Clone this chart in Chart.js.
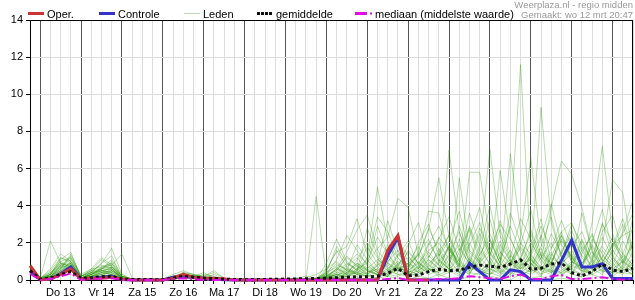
<!DOCTYPE html>
<html>
<head>
<meta charset="utf-8">
<script src="https://cdn.jsdelivr.net/npm/chart.js@4.4.1/dist/chart.umd.min.js"></script>
<style>
html, body { margin: 0; padding: 0; background: #fff; }
#wrap { width: 635px; height: 300px; }
</style>
</head>
<body>
<div id="wrap"><canvas id="pluim" width="635" height="300"></canvas></div>
<script>
// tijdas: 6-uurlijks, van wo 12 18:00 t/m do 27 12:00
const dagen = ['Wo 12', 'Do 13', 'Vr 14', 'Za 15', 'Zo 16', 'Ma 17', 'Di 18', 'Wo 19',
    'Do 20', 'Vr 21', 'Za 22', 'Zo 23', 'Ma 24', 'Di 25', 'Wo 26', 'Do 27'];
const uren = ['00:00', '06:00', '12:00', '18:00'];
const yTicks = [0, 2, 4, 6, 8, 10, 12, 14];

// neerslag (mm) per 6 uur, groepjes = 1 dag
const oper = [0.77,
    0.02, 0.05, 0.3, 0.6,   0.05, 0.1, 0.1, 0.15,   0.05, 0, 0, 0,   0, 0.1, 0.3, 0.15,
    0.1, 0.1, 0.05, 0,   0, 0, 0, 0,   0, 0, 0, 0,   0, 0, 0, 0,
    0, 0, 1.6, 2.4,   0, 0, 0];

const controle = [0.5,
    0.02, 0.05, 0.35, 0.7,   0.05, 0.1, 0.15, 0.2,   0.03, 0, 0, 0,   0, 0.15, 0.2, 0.15,
    0.1, 0.05, 0.02, 0,   0, 0, 0, 0,   0, 0, 0, 0,   0, 0, 0, 0,
    0, 0, 1.3, 2.3,   0, 0, 0, 0,   0, 0, 0.9, 0.45,   0, 0, 0.55, 0.45,
    0, 0, 0, 1.05,   2.15, 0.7, 0.7, 0.88,   0.08, 0.08, 0.08];

const gemiddelde = [0.5,
    0.05, 0.1, 0.3, 0.45,   0.08, 0.12, 0.18, 0.2,   0.05, 0.03, 0.03, 0.02,   0.02, 0.1, 0.2, 0.15,
    0.1, 0.08, 0.05, 0.03,   0.02, 0.02, 0.03, 0.04,   0.05, 0.06, 0.07, 0.08,   0.1, 0.12, 0.15, 0.18,
    0.17, 0.2, 0.36, 0.63,   0.22, 0.27, 0.45, 0.58,   0.5, 0.54, 0.68, 0.8,   0.75, 0.68, 0.86, 1.08,
    0.58, 0.63, 0.86, 0.93,   0.4, 0.22, 0.45, 0.86,   0.54, 0.45, 0.63];

const mediaan = [0.35,
    0, 0.05, 0.2, 0.35,   0, 0.05, 0.08, 0.1,   0, 0, 0, 0,   0, 0.05, 0.1, 0.05,
    0, 0, 0, 0,   0, 0, 0, 0,   0, 0, 0, 0,   0, 0, 0, 0,
    0, 0, 0.05, 0.1,   0, 0, 0, 0.05,   0.05, 0.1, 0.2, 0.15,   0.1, 0.05, 0.2, 0.3,
    0.05, 0.05, 0.2, 0.27,   0.05, 0.05, 0.1, 0.15,   0.05, 0.02, 0.05];

const lid01 = [0.6, 0.05,0.1,0.4,0.7, 0.1,0.3,0.5,0.4, 0.1,0,0,0, 0,0.2,0.3,0.1, 0.1,0.05,0,0, 0,0,0,0, 0,0,0,0.05,
    0.2,0.5,1.2,0.8, 0.3,0.6,1.5,2.2, 1.0,0.4,0.8,1.5, 2.4,1.0,0.5,0.9, 1.8,0.6,0.3,1.2, 2.5,1.1,0.4,0.8, 1.6,0.7,2.2,1.4, 0.6,1.0,2.0];
const lid02 = [0.9, 0.1,2.1,0.9,0.5, 0.05,0.2,0.3,0.6, 0.05,0,0.05,0, 0,0.1,0.2,0.2, 0.4,0.1,0,0, 0,0,0,0, 0,0,0.05,0.1,
    0.1,0.3,0.2,0.6, 1.1,0.4,0.2,0.9, 0.3,1.2,2.8,1.6, 0.5,0.2,1.9,3.1, 1.2,0.4,0.2,0.7, 1.5,3.3,1.0,0.3, 0.6,2.1,0.9,0.4, 1.7,3.0,1.2];
const lid03 = [0.4, 0,0.3,1.2,1.0, 0.1,0.4,0.9,1.7, 0.3,0.05,0,0, 0,0.05,0.3,0.2, 0.05,0,0,0, 0,0,0,0, 0,0.05,0,0,
    0.5,1.6,0.7,0.3, 0.2,0.1,0.4,1.3, 2.1,0.8,0.3,0.5, 1.4,2.6,1.1,0.5, 0.3,1.0,2.9,1.5, 0.6,0.2,1.3,2.4, 1.0,0.5,0.8,2.6, 3.5,1.4,0.8];
const lid04 = [0.5, 0.05,0.2,0.6,1.4, 0.2,0.5,0.6,0.8, 1.4,0.1,0,0.05, 0,0.1,0.2,0.1, 0.1,0.3,0.05,0, 0,0,0,0, 0,0.1,0,4.5,
    0.2,0.1,0.4,0.9, 0.5,0.3,0.2,0.6, 0.9,1.8,0.6,0.2, 0.4,1.5,2.7,1.0, 0.4,0.2,0.9,1.9, 3.8,1.3,0.5,0.2, 0.8,1.6,0.6,1.2, 2.3,0.9,0.4];
const lid05 = [0.7, 0.1,0.4,0.8,0.6, 0.05,0.1,0.2,0.5, 0.2,0,0,0, 0.05,0.3,0.5,0.3, 0.2,0.5,0.1,0, 0,0,0,0, 0,0.1,0.2,0.1,
    0.4,0.9,0.5,0.3, 1.2,5.0,2.1,0.8, 0.3,0.5,1.1,0.6, 1.8,0.7,0.3,1.4, 2.2,0.9,0.4,0.2, 0.6,1.8,3.4,1.2, 0.5,0.3,1.1,0.7, 0.2,0.6,1.5];
const lid06 = [0.3, 0,0.1,0.5,0.9, 0.1,0.2,0.4,0.3, 0.05,0,0,0, 0,0.05,0.1,0.1, 0,0,0,0, 0,0,0,0, 0,0,0,0,
    0.1,0.3,0.8,1.4, 0.9,1.7,2.3,4.4, 3.9,1.3,0.6,0.4, 0.8,2.2,1.0,0.5, 0.3,0.8,1.6,0.7, 0.4,1.2,2.0,0.9, 0.3,0.2,0.7,1.8, 1.1,0.6,0.3];
const lid07 = [0.8, 0.05,0.2,0.7,1.1, 0.3,0.6,0.7,0.9, 0.2,0.05,0,0, 0,0.1,0.4,0.3, 0.1,0.1,0,0, 0,0,0,0, 0,0,0,0,
    0.6,1.5,1.8,3.3, 1.4,0.7,0.3,0.2, 0.5,0.9,1.6,2.0, 1.1,0.4,0.8,2.5, 1.3,3.2,1.4,0.6, 0.9,0.3,0.6,1.4, 2.7,1.2,0.5,0.9, 1.9,2.4,2.7];
const lid08 = [0.5, 0.05,0.15,0.5,0.8, 0.1,0.3,0.6,1.1, 0.3,0,0,0, 0,0.15,0.2,0.1, 0.05,0.05,0,0, 0,0,0,0, 0,0,0,0.1,
    0.3,0.2,0.5,0.4, 0.8,0.4,0.9,0.6, 0.9,1.3,2.7,5.5, 2.3,0.4,1.2,0.5, 0.3,0.6,1.1,0.4, 1.3,2.4,0.8,0.5, 1.0,3.6,1.5,0.6, 0.4,1.1,0.5];
const lid09 = [0.6, 0.1,0.3,0.9,0.7, 0.1,0.2,0.5,0.6, 0.1,0,0,0, 0,0.2,0.3,0.2, 0.3,0.2,0,0, 0,0,0,0, 0,0,0,0,
    0.2,0.6,0.3,1.1, 2.0,1.2,0.5,0.7, 0.4,0.6,1.5,0.8, 7.0,2.6,0.9,0.4, 0.7,1.9,1.0,0.3, 0.5,1.4,0.9,2.1, 1.2,0.4,1.0,3.1, 1.3,0.5,0.9];
const lid10 = [0.4, 0,0.1,0.3,0.6, 0.05,0.1,0.3,0.4, 0.05,0,0,0, 0,0.05,0.2,0.15, 0.05,0,0,0, 0,0,0,0, 0,0,0,0,
    0.1,0.1,0.4,0.9, 0.6,0.3,1.0,1.6, 0.7,1.5,3.7,3.6, 1.4,0.8,5.8,5.8, 2.2,0.9,0.4,1.0, 0.6,0.3,1.2,0.8, 1.9,0.7,0.4,1.3, 0.8,2.1,1.1];
const lid11 = [0.7, 0.05,0.3,1.0,1.2, 0.2,0.4,0.6,0.7, 0.2,0.05,0,0, 0,0.1,0.3,0.2, 0.1,0.05,0,0, 0,0,0,0, 0,0,0,0,
    0.3,0.8,0.6,0.4, 0.2,0.5,0.8,0.5, 0.9,0.6,1.2,2.3, 1.6,0.9,0.5,1.8, 7.05,2.4,1.1,0.6, 1.2,0.5,1.7,2.6, 1.0,0.6,0.4,0.9, 2.0,1.2,0.6];
const lid12 = [0.5, 0.05,0.2,0.8,0.9, 0.1,0.3,0.4,0.5, 0.1,0,0,0, 0,0.1,0.2,0.1, 0.05,0,0,0, 0,0,0,0, 0,0,0,0,
    0.1,0.4,0.9,0.6, 0.3,0.8,1.9,1.2, 0.5,0.3,0.7,1.3, 2.4,1.1,3.6,1.9, 0.8,5.9,2.3,0.9, 0.4,0.8,1.5,0.6, 0.3,1.4,2.5,1.0, 0.5,0.3,1.2];
const lid13 = [0.6, 0.05,0.2,0.6,1.3, 0.2,0.5,0.8,0.6, 0.1,0.05,0,0, 0,0.1,0.25,0.2, 0.1,0,0,0, 0,0,0,0, 0,0,0,0,
    0.2,0.3,0.1,0.5, 1.0,2.3,1.4,0.6, 0.2,0.8,2.0,1.1, 0.6,1.7,0.9,2.8, 1.5,0.7,6.8,2.6, 1.1,0.5,0.3,0.9, 1.4,0.6,1.9,1.1, 0.7,1.4,0.8];
const lid14 = [0.5, 0.05,0.1,0.4,0.8, 0.1,0.2,0.3,0.5, 0.1,0,0,0, 0,0.1,0.15,0.1, 0,0,0,0, 0,0,0,0, 0,0,0,0,
    0.1,0.2,0.6,0.3, 0.4,0.9,0.5,1.4, 0.8,0.4,1.1,0.6, 1.9,0.8,0.4,1.0, 2.1,0.9,3.0,11.6, 1.4,0.6,0.9,2.2, 1.3,0.5,0.4,1.6, 0.9,0.4,0.3];
const lid15 = [0.6, 0.1,0.3,0.7,0.5, 0.1,0.4,0.5,0.3, 0.05,0,0,0, 0,0.1,0.2,0.2, 0.2,0.4,0.1,0, 0,0,0,0, 0,0,0,0,
    0.4,0.7,0.3,0.2, 0.6,1.1,0.7,0.4, 1.6,0.9,0.5,1.7, 0.8,2.9,1.3,0.6, 0.4,1.5,0.8,2.3, 6.6,2.0,0.7,0.4, 0.9,1.8,0.6,0.3, 1.2,0.7,2.2];
const lid16 = [0.4, 0,0.2,0.5,0.7, 0.1,0.2,0.4,0.7, 0.2,0,0,0, 0,0.05,0.1,0.1, 0,0,0,0, 0,0,0,0, 0,0,0,0,
    0.2,0.1,0.3,0.8, 0.5,0.3,0.6,1.0, 0.6,1.4,0.8,0.5, 1.3,0.7,2.0,0.9, 0.5,1.2,0.7,1.8, 1.0,9.3,3.1,1.2, 0.6,0.9,1.5,0.7, 0.4,1.0,0.6];
const lid17 = [0.7, 0.05,0.3,0.9,0.8, 0.1,0.3,0.7,0.8, 0.2,0.05,0,0, 0,0.2,0.3,0.2, 0.1,0.1,0,0, 0,0,0,0, 0,0,0,0,
    0.3,0.5,1.3,0.7, 0.4,0.6,0.3,0.9, 1.2,0.7,0.4,1.0, 0.6,1.1,0.5,1.6, 0.9,0.4,1.3,0.8, 2.0,1.1,3.9,6.4, 5.7,3.9,1.6,0.8, 0.5,1.3,0.7];
const lid18 = [0.5, 0.05,0.1,0.4,0.6, 0.05,0.2,0.3,0.4, 0.1,0,0,0, 0,0.1,0.2,0.1, 0.05,0,0,0, 0,0,0,0, 0,0,0,0,
    0.1,0.3,0.2,0.5, 0.3,0.8,1.2,0.6, 0.3,0.5,0.9,1.4, 0.7,0.4,1.1,0.6, 1.4,0.8,0.5,1.2, 0.7,1.5,0.9,2.4, 1.2,0.6,3.1,7.2, 2.5,1.0,0.5];
const lid19 = [0.6, 0.1,0.2,0.6,0.9, 0.2,0.4,0.5,0.6, 0.1,0,0,0, 0,0.15,0.3,0.25, 0.15,0.1,0,0, 0,0,0,0, 0,0,0,0,
    0.2,0.6,0.4,0.3, 0.7,0.4,0.2,0.8, 1.5,0.9,0.6,0.4, 1.1,1.9,0.8,0.5, 0.9,2.1,1.0,0.6, 1.3,0.7,0.4,1.6, 2.4,1.3,0.8,1.9, 5.4,4.7,1.3];
const lid20 = [0.3, 0,0.1,0.3,0.5, 0.05,0.1,0.2,0.3, 0.05,0,0,0, 0,0.05,0.1,0.05, 0,0,0,0, 0,0,0,0, 0,0,0,0,
    0.4,1.8,0.9,0.5, 2.8,1.3,0.6,0.3, 0.5,1.0,0.4,0.9, 1.7,0.6,0.3,1.2, 0.6,0.3,1.0,2.0, 0.9,0.5,1.4,0.7, 0.4,0.9,1.8,0.8, 1.5,2.6,4.3];
const lid21 = [0.8, 0.1,0.4,1.0,0.6, 0.1,0.3,0.6,0.9, 0.2,0,0,0, 0,0.1,0.2,0.15, 0.1,0.05,0,0, 0,0,0,0, 0,0,0,0,
    0.1,0.2,0.7,1.2, 0.5,0.3,0.9,0.5, 0.4,0.7,1.3,0.8, 0.4,5.5,1.6,1.0, 3.3,1.1,0.5,0.4, 0.8,1.7,0.6,0.3, 0.9,2.2,1.0,0.5, 0.3,0.8,3.4];
const lid22 = [0.5, 0.05,0.2,0.5,1.0, 0.1,0.3,0.5,0.7, 0.1,0,0,0, 0,0.1,0.3,0.2, 0.05,0,0,0, 0,0,0,0, 0,0,0,0,
    0.2,0.4,0.3,0.6, 0.9,0.5,0.3,0.7, 0.4,0.2,0.5,1.1, 0.6,0.3,0.7,0.4, 1.0,0.5,0.3,0.8, 1.1,0.6,0.4,0.9, 0.6,0.3,0.8,0.5, 0.4,0.6,0.3];
const lid23 = [0.6, 0.05,0.2,0.7,0.8, 0.1,0.2,0.4,0.5, 0.1,0,0,0, 0,0.1,0.2,0.1, 0.1,0.05,0,0, 0,0,0,0, 0,0,0,0,
    0.1,0.1,0.2,0.4, 0.2,0.3,0.5,0.3, 0.2,0.4,0.6,0.3, 0.5,0.8,0.4,0.3, 0.6,0.4,0.9,0.5, 0.3,0.7,0.5,0.4, 0.8,0.5,0.3,0.6, 0.4,0.7,0.5];
const lid24 = [0.4, 0,0.1,0.4,0.5, 0.05,0.1,0.2,0.3, 0.05,0,0,0, 0,0.05,0.15,0.1, 0.05,0,0,0, 0,0,0,0, 0,0,0,0,
    0.1,0,0.2,0.1, 0.3,0.1,0.2,0.1, 0,0.2,0.1,0.3, 0.1,0,0.2,0.4, 0.2,0.1,0,0.3, 0.1,0.2,0,0.1, 0,0.2,0.3,0.1, 0.2,0,0.1];
const lid25 = [0.5, 0.05,0.3,1.1,1.5, 0.1,0.3,0.6,1.0, 0.2,0,0,0, 0,0.1,0.2,0.1, 0.1,0,0,0, 0,0,0,0, 0,0,0,0,
    0.3,1.1,2.4,1.6, 0.8,2.9,1.4,0.7, 1.9,3.1,1.2,2.2, 3.4,1.6,2.8,1.3, 2.5,1.1,3.6,2.0, 1.4,2.9,1.7,3.2, 1.8,2.6,1.2,3.0, 2.1,1.4,2.8];
const lid26 = [0.6, 0.1,0.5,1.2,0.9, 0.2,0.5,1.1,0.7, 0.1,0,0,0, 0,0.2,0.4,0.3, 0.2,0.1,0,0, 0,0,0,0, 0,0,0,0,
    0.9,2.2,1.0,0.5, 1.8,0.9,3.2,1.5, 0.6,2.0,3.0,1.3, 2.1,3.7,1.5,0.9, 1.6,3.0,2.2,1.1, 2.7,1.3,0.8,2.6, 3.1,1.6,2.4,1.0, 1.8,3.3,1.5];
const lid27 = [0.4, 0,0.2,0.8,1.2, 0.1,0.4,0.9,1.3, 0.1,0,0,0, 0,0.1,0.2,0.1, 0,0,0,0, 0,0,0,0, 0,0,0,0,
    0.1,0.6,1.5,2.7, 3.5,1.6,0.9,2.1, 1.3,0.6,1.9,2.9, 1.7,1.0,2.3,3.9, 1.4,2.7,1.2,3.3, 2.2,0.9,2.5,1.4, 3.0,1.9,1.1,2.3, 1.2,2.5,3.6];
const lid28 = [0.9, 0.1,0.6,1.4,1.0, 0.2,0.6,1.2,0.8, 0.1,0,0,0, 0,0.2,0.3,0.2, 0.1,0.05,0,0, 0,0,0,0, 0,0,0.1,0.3,
    0.6,1.0,0.5,1.9, 1.1,3.4,2.6,1.2, 0.7,1.4,2.2,1.0, 1.8,0.8,2.9,1.6, 4.0,1.5,0.9,1.7, 0.8,2.3,4.1,1.9, 1.0,0.7,2.0,3.8, 1.6,0.9,1.9];
const leden = [lid01, lid02, lid03, lid04, lid05, lid06, lid07, lid08, lid09, lid10, lid11, lid12, lid13, lid14,
    lid15, lid16, lid17, lid18, lid19, lid20, lid21, lid22, lid23, lid24, lid25, lid26, lid27, lid28];

const kleuren = {
    oper: '#cc3333',
    controle: '#3333cc',
    lid: 'rgba(40, 150, 0, 0.33)',
    gemiddelde: '#111111',
    mediaan: '#e010e0',
    rasterLicht: '#dcdcdc',
    rasterDag: '#555555',
};
const lettertype = '"Liberation Sans", Arial, sans-serif';

// labels voor de categorie-as
const tijdDag = [];
const tijdUur = [];
dagen.forEach((d) => uren.forEach((u) => { tijdDag.push(d); tijdUur.push(u); }));
const eerste = 3; // wo 12 18:00
const labels = tijdDag.slice(eerste, eerste + gemiddelde.length).map((d, i) => `${d} ${tijdUur[eerste + i]}`);

function lijn(label, data, kleur, breedte, volgorde, extra = {}) {
    return {
        label,
        data,
        borderColor: kleur,
        borderWidth: breedte,
        pointRadius: 0,
        tension: 0,
        fill: false,
        order: volgorde,
        ...extra,
    };
}

const datasets = [
    lijn('mediaan (middelste waarde)', mediaan, kleuren.mediaan, 2, 0, { borderDash: [9, 3, 2, 3], clip: 4 }),
    lijn('gemiddelde', gemiddelde, kleuren.gemiddelde, 3, 1, { borderDash: [3, 3], clip: 4 }),
    lijn('Oper.', oper, kleuren.oper, 3, 2, { clip: 4 }),
    lijn('Controle', controle, kleuren.controle, 3, 3, { clip: 4 }),
    ...leden.map((d, i) => lijn(`Lid ${i + 1}`, d, kleuren.lid, 1, 10 + i)),
];

const legendaItems = [
    { tekst: 'Oper.', x: 28, soort: 'oper' },
    { tekst: 'Controle', x: 99, soort: 'controle' },
    { tekst: 'Leden', x: 184, soort: 'lid' },
    { tekst: 'gemiddelde', x: 257, soort: 'gemiddelde' },
    { tekst: 'mediaan (middelste waarde)', x: 355, soort: 'mediaan' },
];

const legenda = {
    id: 'legenda',
    afterDraw(chart) {
        const ctx = chart.ctx;
        const y = 13.5;
        ctx.save();
        legendaItems.forEach((item) => {
            const x = item.x;
            let tx = x + 19;
            if (item.soort === 'oper' || item.soort === 'controle') {
                ctx.fillStyle = kleuren[item.soort];
                ctx.fillRect(x, y - 1.5, 16, 3);
            } else if (item.soort === 'lid') {
                ctx.fillStyle = kleuren.lid;
                ctx.fillRect(x, y - 0.5, 16, 1);
            } else if (item.soort === 'gemiddelde') {
                ctx.fillStyle = kleuren.gemiddelde;
                for (let k = 0; k < 4; k++) ctx.fillRect(x + k * 4, y - 1.5, 3, 3);
            } else {
                ctx.fillStyle = kleuren.mediaan;
                ctx.fillRect(x, y - 1.5, 12, 3);
                ctx.fillRect(x + 15, y - 1, 2, 2);
                tx = x + 20;
            }
            ctx.fillStyle = '#000';
            ctx.font = `11px ${lettertype}`;
            ctx.textBaseline = 'alphabetic';
            ctx.textAlign = 'left';
            ctx.fillText(item.tekst, tx, 17.5);
        });
        ctx.fillStyle = '#9a9a9a';
        ctx.font = `9.5px ${lettertype}`;
        ctx.textAlign = 'right';
        ctx.fillText('Weerplaza.nl - regio midden', 633, 8);
        ctx.fillText('Gemaakt: wo 12 mrt 20:47', 633, 17.5);
        ctx.restore();
    },
};

const kader = {
    id: 'kader',
    beforeDatasetsDraw(chart) {
        const { ctx, chartArea: a } = chart;
        ctx.save();
        ctx.strokeStyle = '#000';
        ctx.lineWidth = 1;
        ctx.beginPath();
        ctx.moveTo(a.left - 4, Math.round(a.top) + 0.5);
        ctx.lineTo(a.right, Math.round(a.top) + 0.5);
        ctx.moveTo(Math.round(a.right) - 0.5, a.top);
        ctx.lineTo(Math.round(a.right) - 0.5, a.bottom);
        ctx.stroke();
        ctx.restore();
    },
};

Chart.defaults.font.family = lettertype;
Chart.defaults.font.size = 11;
Chart.defaults.color = '#000';

new Chart(document.getElementById('pluim'), {
    type: 'line',
    data: { labels, datasets },
    options: {
        responsive: false,
        animation: false,
        events: [],
        layout: { padding: { top: 20, left: 0, right: 0, bottom: 0 } },
        plugins: { legend: { display: false }, tooltip: { enabled: false } },
        scales: {
            x: {
                type: 'category',
                grid: {
                    color: (c) => (tijdUur[eerste + c.index] === '00:00' ? kleuren.rasterDag : kleuren.rasterLicht),
                    tickColor: '#000',
                    tickLength: 4,
                },
                border: { color: '#000' },
                ticks: {
                    autoSkip: false,
                    maxRotation: 0,
                    minRotation: 0,
                    padding: 2,
                    color: '#000',
                    callback(value) {
                        const i = eerste + value;
                        return tijdUur[i] === '12:00' && value < labels.length - 1 ? tijdDag[i] : '';
                    },
                },
                afterFit(scale) { scale.height = 20; },
            },
            y: {
                min: yTicks[0],
                max: yTicks[yTicks.length - 1],
                afterBuildTicks(scale) { scale.ticks = yTicks.map((v) => ({ value: v })); },
                grid: { color: kleuren.rasterLicht, tickColor: '#000', tickLength: 4 },
                border: { color: '#000' },
                ticks: { padding: 3, color: '#000' },
                afterFit(scale) { scale.width = 30; },
            },
        },
    },
    plugins: [kader, legenda],
});
</script>
</body>
</html>
